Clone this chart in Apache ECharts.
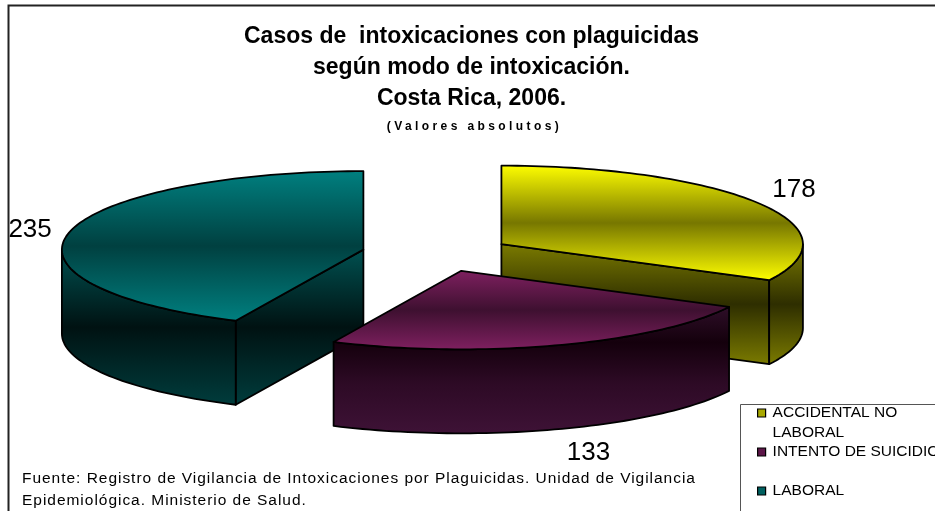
<!DOCTYPE html>
<html>
<head>
<meta charset="utf-8">
<style>html,body{margin:0;padding:0;background:#fff}#c{width:935px;height:511px}</style>
<script src="https://cdn.jsdelivr.net/npm/echarts@6/dist/echarts.min.js"></script>
</head>
<body>
<div id="c"></div>
<script>
const categories = ['ACCIDENTAL NO LABORAL', 'INTENTO DE SUICIDIO', 'LABORAL'];
const values = [178, 133, 235];
const legendText = ['\n\nACCIDENTAL NO\nLABORAL\n ', '\n\nINTENTO DE SUICIDIO\n\n ', '\n\nLABORAL\n\n '];
const titleText = 'Casos de  intoxicaciones con plaguicidas\nsegún modo de intoxicación.\nCosta Rica, 2006.';
const subtitleText = '(Valores absolutos)';
const sourceText = 'Fuente: Registro de Vigilancia de Intoxicaciones por Plaguicidas. Unidad de Vigilancia\nEpidemiológica. Ministerio de Salud.';

// Appearance, per slice
const topColors = [['#ffff00', '#777700'], ['#7f2060', '#3e1030'], ['#008080', '#004040']];
const sideStops = [
  [[0, '#7a7a00'], [0.5, '#2e2e00'], [1, '#7a7a00']],
  [[0, '#2e0e28'], [0.28, '#14000c'], [0.6, '#2d0a25'], [1, '#3e1236']],
  [[0, '#005050'], [0.5, '#001212'], [1, '#003c3c']]
];
const legendColors = ['#a8a800', '#5c1648', '#006060'];
const labelShift = [[35, -14], [30, 24], [-39, -3]];

// Pie geometry
const PIE = { cx: 437, cy: 253.6, rx: 301.5, ry: 78.5, depth: 84, explode: 75.4, explodeY: 0.2415 };
const total = values.reduce((a, b) => a + b, 0);
const starts = values.map((_, i) => values.slice(0, i).reduce((a, b) => a + b, 0) / total * 360);

const RAD = Math.PI / 180;
const sliceGroup = (i, value) => {
  const a0 = starts[i], a1 = a0 + value / total * 360, mid = (a0 + a1) / 2;
  const cx = PIE.cx + PIE.explode * Math.sin(mid * RAD);
  const cy = PIE.cy - PIE.explode * PIE.explodeY * Math.cos(mid * RAD);
  const at = (a, drop) => [cx + PIE.rx * Math.sin(a * RAD), cy - PIE.ry * Math.cos(a * RAD) + (drop || 0)];
  const arc = (from, to, drop) => {
    const pts = [], n = Math.max(2, Math.ceil(Math.abs(to - from) / 1.5));
    for (let k = 0; k <= n; k++) pts.push(at(from + (to - from) * k / n, drop));
    return pts;
  };
  const children = [];
  const lo = Math.max(a0, 90), hi = Math.min(a1, 270);
  const startVisible = Math.sin(a0 * RAD) < -1e-6;
  const endVisible = Math.sin(a1 * RAD) > 1e-6;
  const sidePolys = [];
  if (startVisible) sidePolys.push([[cx, cy], at(a0), at(a0, PIE.depth), [cx, cy + PIE.depth]]);
  if (endVisible) sidePolys.push([[cx, cy], at(a1), at(a1, PIE.depth), [cx, cy + PIE.depth]]);
  if (hi > lo) sidePolys.push(arc(lo, hi, 0).concat(arc(hi, lo, PIE.depth)));
  const ys = sidePolys.reduce((acc, p) => acc.concat(p.map(q => q[1])), []);
  const sideFill = new echarts.graphic.LinearGradient(0, Math.min(...ys), 0, Math.max(...ys),
    sideStops[i].map(s => ({ offset: s[0], color: s[1] })), true);
  sidePolys.forEach(p => children.push({
    type: 'polygon', shape: { points: p },
    style: { fill: sideFill, stroke: '#000', lineWidth: 1.8, lineJoin: 'round' }
  }));
  children.push({
    type: 'polygon', shape: { points: [[cx, cy]].concat(arc(a0, a1, 0)) },
    style: {
      fill: new echarts.graphic.LinearGradient(0, 0, 0, 1, [
        { offset: 0, color: topColors[i][0] }, { offset: 0.5, color: topColors[i][1] }, { offset: 1, color: topColors[i][0] }
      ]),
      stroke: '#000', lineWidth: 1.8, lineJoin: 'round'
    }
  });
  const lp = at(mid);
  const frontDrop = Math.cos(mid * RAD) < -0.5 ? PIE.depth : 0;
  children.push({
    type: 'text',
    style: {
      x: lp[0] + labelShift[i][0], y: lp[1] + frontDrop + labelShift[i][1],
      text: String(value), fill: '#000', font: '26px "Liberation Sans"', align: 'center', verticalAlign: 'middle'
    }
  });
  return { type: 'group', children };
};

// Wide-tracked lettering of the original
const tracking = { [subtitleText]: '3.4px' };
sourceText.split('\n').forEach(t => tracking[t] = '0.97px');
const nativeFill = CanvasRenderingContext2D.prototype.fillText;
CanvasRenderingContext2D.prototype.fillText = function (t, x, y, m) {
  this.letterSpacing = tracking[t] || '0px';
  return m === undefined ? nativeFill.call(this, t, x, y) : nativeFill.call(this, t, x, y, m);
};

const chart = echarts.init(document.getElementById('c'), null, { renderer: 'canvas' });
const drawOrder = [2, 0, 1];
chart.setOption({
  animation: false,
  backgroundColor: '#fff',
  title: [
    {
      text: titleText, left: 466.5, top: 16.5, textAlign: 'center',
      textStyle: { fontFamily: 'Liberation Sans', fontWeight: 'bold', fontSize: 23, lineHeight: 31, color: '#000' }
    },
    {
      text: subtitleText, left: 469.5, top: 115, textAlign: 'center',
      textStyle: { fontFamily: 'Liberation Sans', fontWeight: 'bold', fontSize: 12, lineHeight: 14, color: '#000' }
    },
    {
      text: sourceText, left: 17, top: 462.5,
      textStyle: { fontFamily: 'Liberation Sans', fontWeight: 'normal', fontSize: 15.5, lineHeight: 22, color: '#000' }
    }
  ],
  graphic: [
    { type: 'rect', z: -1, shape: { x: 8.5, y: 5.5, width: 1000, height: 600 }, style: { fill: '#fff', stroke: '#222', lineWidth: 2 } },
    { type: 'rect', z: -1, shape: { x: 740.5, y: 404.5, width: 300, height: 200 }, style: { fill: '#fff', stroke: '#555', lineWidth: 1 } }
  ],
  legend: {
    orient: 'vertical', left: 757, top: 364.25, height: 400, padding: 0, itemGap: -58.5,
    itemWidth: 8, itemHeight: 8, selectedMode: false,
    data: categories.map((name, i) => ({ name, icon: 'rect', itemStyle: { color: legendColors[i], borderColor: '#000', borderWidth: 1.2 } })),
    formatter: n => legendText[categories.indexOf(n)],
    textStyle: { fontFamily: 'Liberation Sans', fontSize: 15.5, lineHeight: 19.5, color: '#000', padding: [0, 0, 0, 2] }
  },
  series: drawOrder.map(i => ({
    type: 'custom', name: categories[i], coordinateSystem: 'none', silent: true,
    itemStyle: { color: legendColors[i] },
    data: [{ name: categories[i], value: values[i] }],
    renderItem: (params, api) => sliceGroup(i, api.value(0))
  }))
});
</script>
</body>
</html>
